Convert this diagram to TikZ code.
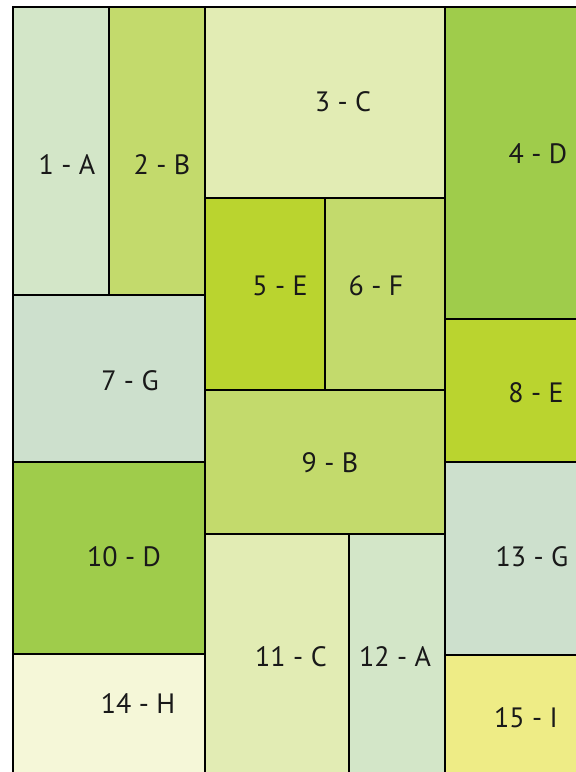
\documentclass[tikz,border=0pt]{standalone}
\usepackage{fontspec}
\setmainfont{PT Sans}
\definecolor{cA}{HTML}{D3E6C8}
\definecolor{cB}{HTML}{C3DA6C}
\definecolor{cC}{HTML}{E2ECB4}
\definecolor{cD}{HTML}{9FCC4B}
\definecolor{cE}{HTML}{BAD42F}
\definecolor{cF}{HTML}{C3DA6C}
\definecolor{cG}{HTML}{CDE0CD}
\definecolor{cH}{HTML}{F5F7D8}
\definecolor{cI}{HTML}{EEEC86}
\tikzset{
  cell/.style={draw=black, line width=2.4pt},
  lbl/.style={font=\fontsize{28}{30}\selectfont, inner sep=0pt, text=black!90}
}
\begin{document}
\begin{tikzpicture}[x=1pt,y=-1pt]
\useasboundingbox (0,0) rectangle (576,772);
\clip (0,0) rectangle (576,772);
\fill[white] (0,0) rectangle (576,772);
\path[cell, fill=cA] (13,7) rectangle (109,295);
\path[cell, fill=cB] (109,7) rectangle (205,295);
\path[cell, fill=cC] (205,7) rectangle (445,198);
\path[cell, fill=cD] (445,7) rectangle (600,319);
\path[cell, fill=cE] (205,198) rectangle (325,390);
\path[cell, fill=cF] (325,198) rectangle (445,390);
\path[cell, fill=cG] (13,295) rectangle (205,462);
\path[cell, fill=cE] (445,319) rectangle (600,462);
\path[cell, fill=cB] (205,390) rectangle (445,534);
\path[cell, fill=cD] (13,462) rectangle (205,654);
\path[cell, fill=cC] (205,534) rectangle (349,800);
\path[cell, fill=cA] (349,534) rectangle (445,800);
\path[cell, fill=cG] (445,462) rectangle (600,655);
\path[cell, fill=cH] (13,654) rectangle (205,800);
\path[cell, fill=cI] (445,655) rectangle (600,800);
\node[lbl] (t1) at (67,165) {1 - A};
\node[lbl] (t2) at (162,165) {2 - B};
\node[lbl] (t3) at (343,102) {3 - C};
\node[lbl] (t4) at (538,154) {4 - D};
\node[lbl] (t5) at (280,286) {5 - E};
\node[lbl] (t6) at (376,286) {6 - F};
\node[lbl] (t7) at (130,381) {7 - G};
\node[lbl] (t8) at (536,393) {8 - E};
\node[lbl] (t9) at (330,463) {9 - B};
\node[lbl] (t10) at (124,557) {10 - D};
\node[lbl] (t11) at (291,657) {11 - C};
\node[lbl] (t12) at (395,657) {12 - A};
\node[lbl] (t13) at (532,557) {13 - G};
\node[lbl] (t14) at (138,704) {14 - H};
\node[lbl] (t15) at (526,718) {15 - I};
\end{tikzpicture}
\end{document}
